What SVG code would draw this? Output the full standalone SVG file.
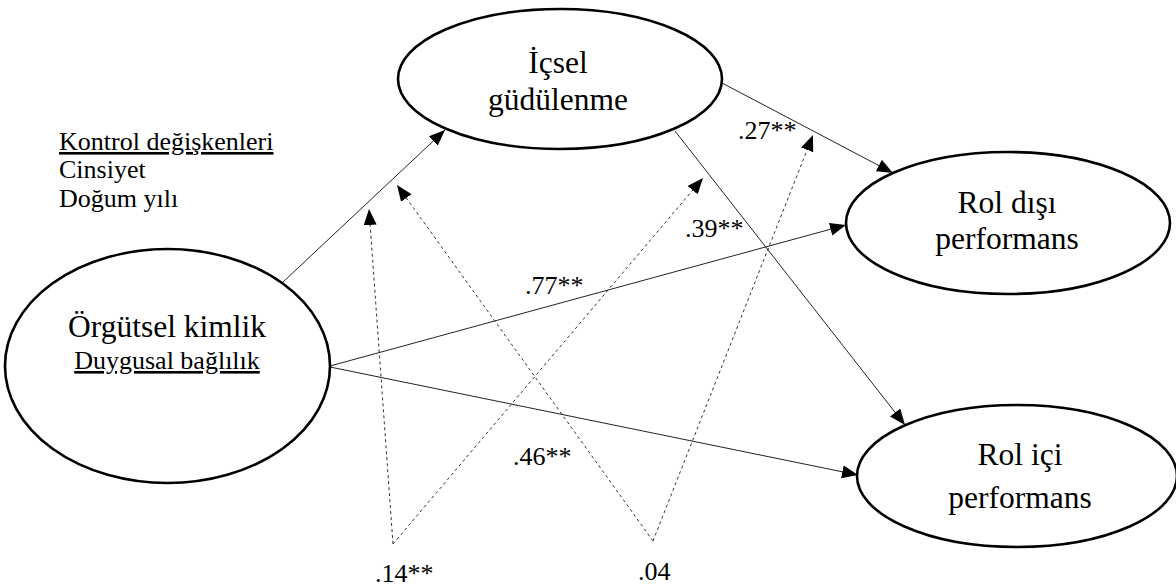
<svg xmlns="http://www.w3.org/2000/svg" width="1176" height="587" viewBox="0 0 1176 587">
<defs>
<marker id="ah" markerUnits="userSpaceOnUse" markerWidth="18" markerHeight="14" refX="16" refY="6.5" orient="auto">
<path d="M0,0 L16,6.5 L0,13 Z" fill="#000"/>
</marker>
<style>
.node ellipse{fill:#fff;stroke:#000;stroke-width:2.6}
text{font-family:'Liberation Serif','Times New Roman',serif;fill:#000}
.big{font-size:31.5px;text-anchor:middle}
.sm{font-size:26px}
.solid{stroke:#222;stroke-width:1;fill:none}
.dash{stroke:#333;stroke-width:1;stroke-dasharray:3 3;fill:none}
</style>
</defs>
<rect width="1176" height="587" fill="#fff"/>
<g id="connectors">
<line class="solid" x1="283" y1="282" x2="445" y2="130" marker-end="url(#ah)"/>
<line class="solid" x1="722" y1="83" x2="893" y2="173" marker-end="url(#ah)"/>
<line class="solid" x1="675" y1="131" x2="905" y2="425" marker-end="url(#ah)"/>
<line class="solid" x1="330" y1="366" x2="846" y2="225" marker-end="url(#ah)"/>
<line class="solid" x1="330" y1="367" x2="858" y2="475" marker-end="url(#ah)"/>
<line class="dash" x1="393" y1="544" x2="369" y2="209" marker-end="url(#ah)"/>
<line class="dash" x1="393" y1="544" x2="703" y2="178" marker-end="url(#ah)"/>
<line class="dash" x1="653" y1="541" x2="397" y2="185" marker-end="url(#ah)"/>
<line class="dash" x1="653" y1="541" x2="813" y2="135" marker-end="url(#ah)"/>
</g>
<g id="icsel" class="node">
<ellipse cx="560" cy="79" rx="162" ry="70"/>
<text class="big" x="558" y="73">İçsel</text>
<text class="big" x="558" y="110">güdülenme</text>
</g>
<g id="orgutsel" class="node">
<ellipse cx="167.5" cy="366" rx="162.5" ry="117"/>
<text class="big" x="167" y="337">Örgütsel kimlik</text>
<text class="sm" x="167" y="369" text-anchor="middle" text-decoration="underline">Duygusal bağlılık</text>
</g>
<g id="roldisi" class="node">
<ellipse cx="1008" cy="223" rx="162" ry="71"/>
<text class="big" x="1007" y="213">Rol dışı</text>
<text class="big" x="1007" y="249">performans</text>
</g>
<g id="rolici" class="node">
<ellipse cx="1017" cy="476" rx="160" ry="71"/>
<text class="big" x="1020" y="465">Rol içi</text>
<text class="big" x="1020" y="508">performans</text>
</g>
<g id="kontrol">
<text class="sm" x="59" y="150" text-decoration="underline">Kontrol değişkenleri</text>
<text class="sm" x="59" y="178">Cinsiyet</text>
<text class="sm" x="59" y="207">Doğum yılı</text>
</g>
<g id="labels">
<text class="sm" x="738" y="139">.27**</text>
<text class="sm" x="685" y="237">.39**</text>
<text class="sm" x="525" y="294">.77**</text>
<text class="sm" x="513" y="465">.46**</text>
<text class="sm" x="375" y="582">.14**</text>
<text class="sm" x="638" y="580">.04</text>
</g>
</svg>
